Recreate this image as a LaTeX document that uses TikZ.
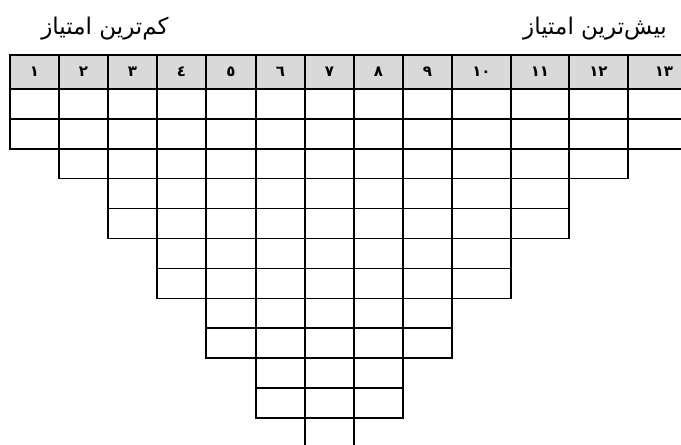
\documentclass[tikz,border=0pt]{standalone}
\usepackage{fontspec}
\newfontfamily\arabicfont[Script=Arabic]{DejaVu Sans}
\TeXXeTstate=1

\begin{document}
\begin{tikzpicture}[
  x=1pt, y=-1pt,
  cell/.style={draw, line width=1.5pt},
  headcell/.style={cell, fill=black!15},
  num/.style={font=\arabicfont\bfseries\fontsize{15}{15}\selectfont, inner sep=0pt},
  rank/.style={font=\arabicfont\fontsize{23}{23}\selectfont, inner sep=0pt}
]
\useasboundingbox (0,0) rectangle (681,445);
\clip (0,0) rectangle (681,445);

% titles
\node[rank] (least) at (105,29) {\beginR کم^^^^200cترین امتیاز\endR};
\node[rank] (most) at (595,29) {\beginR بیش^^^^200cترین امتیاز\endR};

% columns: left / right / rows / label
\foreach \xl/\xr/\n/\lab [count=\i] in {
    10/59/2/١, 59/108/3/٢, 108/157/5/٣, 157/206/7/٤, 206/256/9/٥,
    256/305/11/٦, 305/354/13/٧, 354/403/11/٨, 403/452/9/٩,
    452/511/7/١٠, 511/569/5/١١, 569/628/3/١٢, 628/700/2/١٣} {
  \draw[headcell] (\xl,55) rectangle (\xr,89);
  \node[num] (h\i) at ({(\xl+\xr)/2},72) {\lab};
  \foreach \r in {1,...,\n}
    \draw[cell] (\xl,{89+29.9*(\r-1)}) rectangle (\xr,{89+29.9*\r});
}
\end{tikzpicture}
\end{document}
